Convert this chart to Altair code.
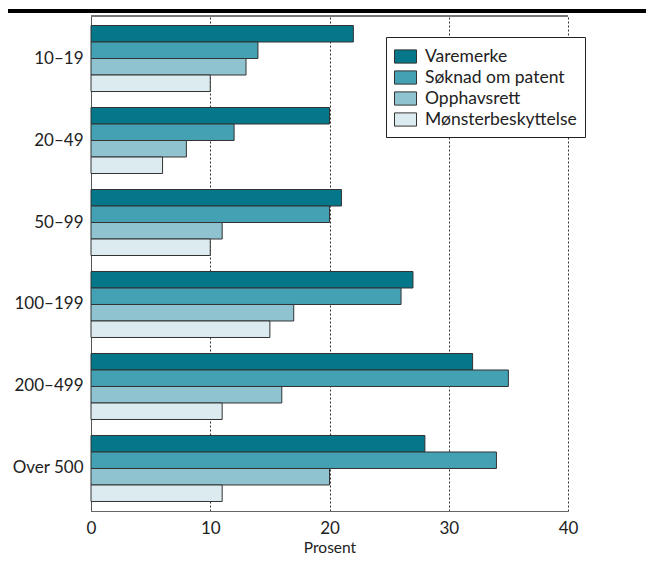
import altair as alt
import pandas as pd

categories = ["10–19", "20–49", "50–99", "100–199", "200–499", "Over 500"]
series = ["Varemerke", "Søknad om patent", "Opphavsrett", "Mønsterbeskyttelse"]
varemerke = [22, 20, 21, 27, 32, 28]
patent = [14, 12, 20, 26, 35, 34]
opphavsrett = [13, 8, 11, 17, 16, 20]
monster = [10, 6, 10, 15, 11, 11]
colors = ["#04788A", "#43A1B3", "#8FC3D0", "#DCEBF0"]
x_ticks = [0, 10, 20, 30, 40]

rows = []
for s, vals in zip(series, [varemerke, patent, opphavsrett, monster]):
    for c, v in zip(categories, vals):
        rows.append({"Gruppe": c, "Serie": s, "Prosent": v})
df = pd.DataFrame(rows)

FONT = "Lato"
W, H = 477, 495

bars = alt.Chart(df).mark_bar(stroke="#333333", strokeWidth=1).encode(
    x=alt.X("Prosent:Q",
            scale=alt.Scale(domain=[0, 40], nice=False),
            axis=alt.Axis(values=x_ticks, title="Prosent", ticks=False,
                          labelFlush=False,
                          grid=True, gridDash=[2, 2], gridColor="#333333",
                          gridWidth=1, domainColor="#666666", labelPadding=9,
                          labelFontSize=17, titleFontSize=15.5,
                          titleY=41, titleBaseline="alphabetic",
                          titleFontWeight="normal", labelColor="#222222",
                          titleColor="#222222", labelFont=FONT, titleFont=FONT)),
    y=alt.Y("Gruppe:N", sort=categories, title=None,
            scale=alt.Scale(paddingInner=0.195, paddingOuter=0.116),
            axis=alt.Axis(ticks=False, grid=False, domainColor="#555555",
                          labelFontSize=17, labelPadding=8, labelColor="#222222",
                          labelFont=FONT)),
    yOffset=alt.YOffset("Serie:N", sort=series),
    color=alt.Color("Serie:N", sort=series,
                    scale=alt.Scale(domain=series, range=colors),
                    legend=alt.Legend(orient="none", legendX=295, legendY=21,
                                      title=None, strokeColor="#222222",
                                      fillColor="white", padding=8,
                                      labelFontSize=17.5, labelFont=FONT,
                                      labelColor="#222222",
                                      symbolType="M-1,-0.6H1V0.6H-1Z",
                                      symbolSize=484, symbolStrokeColor="#333333",
                                      symbolStrokeWidth=1, symbolOpacity=1,
                                      rowPadding=0, labelOffset=8)),
)

top_border = alt.Chart(df).mark_rule(color="#777777", strokeWidth=1).encode(
    x=alt.value(0), x2=alt.value(W), y=alt.value(0)
)
top_line = alt.Chart(df).mark_rule(color="#000000", strokeWidth=2.5).encode(
    x=alt.value(-83), x2=alt.value(563), y=alt.value(-5)
)

chart = alt.layer(top_border, bars, top_line).properties(
    width=W, height=H,
    autosize=alt.AutoSizeParams(type="none"),
    padding={"left": 83, "top": 8, "right": 78, "bottom": 44},
).configure_view(stroke=None).configure_axis(labelFont=FONT, titleFont=FONT)

chart.save("out.html", embed_options={"renderer": "svg", "actions": False})
